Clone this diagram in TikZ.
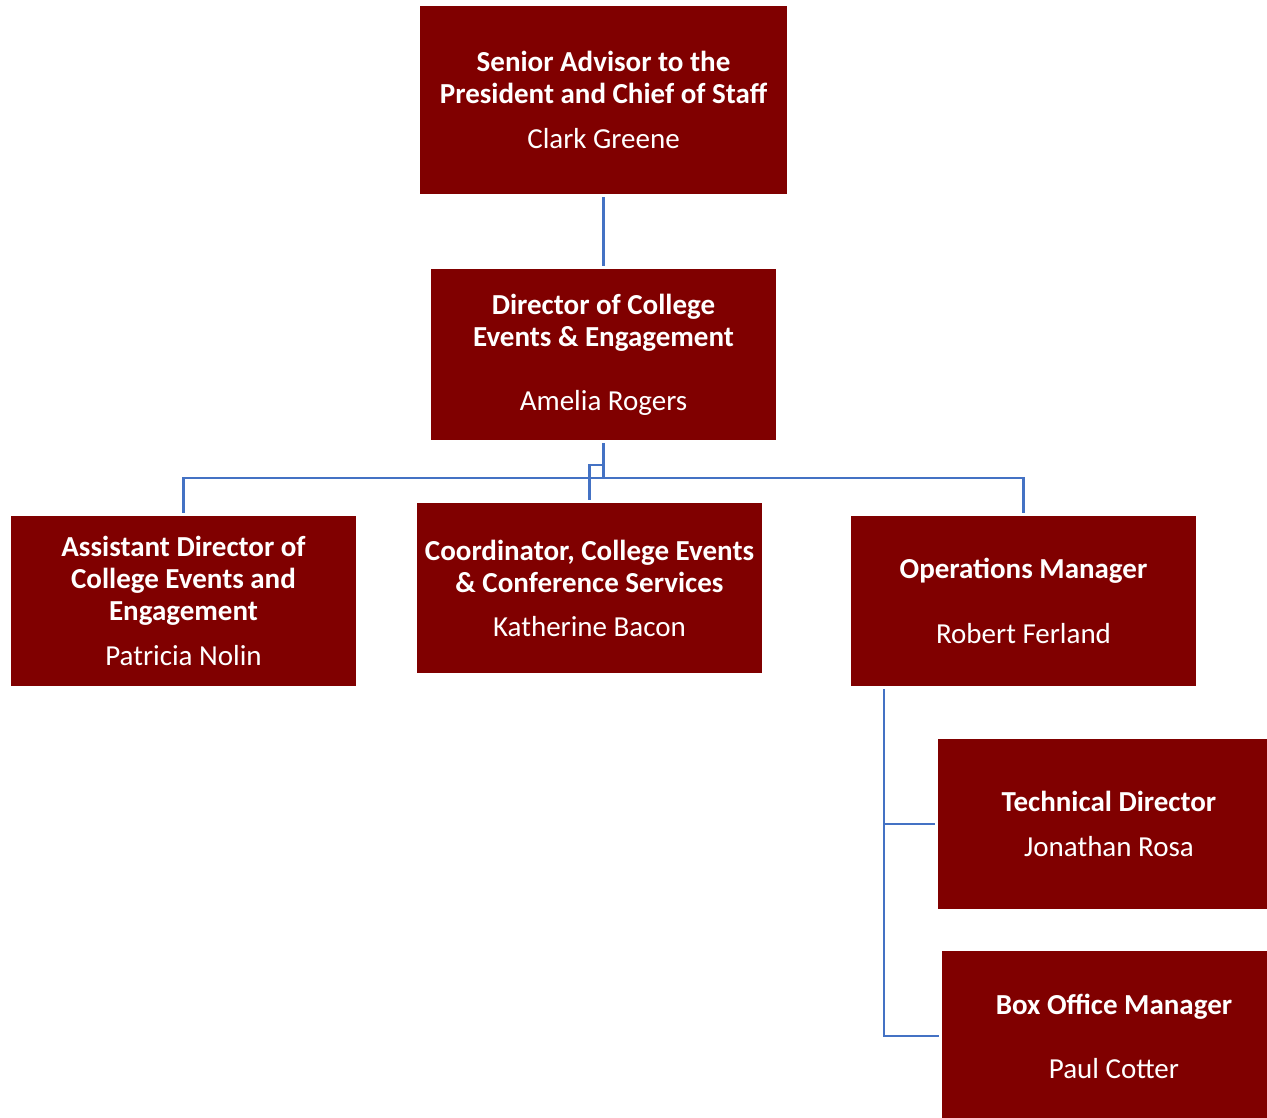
\documentclass[tikz,border=0pt]{standalone}
\usepackage{fontspec}
\setmainfont{Carlito}
\usetikzlibrary{calc}
\definecolor{boxred}{RGB}{128,0,0}
\definecolor{connblue}{RGB}{68,114,196}
\tikzset{
  orgbox/.style={fill=boxred, draw=none, text=white, align=center, inner sep=0pt,
    font=\fontsize{29}{32}\selectfont},
  conn/.style={draw=connblue, line width=2.5pt},
}
\newcommand{\ttl}[1]{\textbf{#1}}
\begin{document}
\begin{tikzpicture}[x=1pt,y=-1pt]
\useasboundingbox (0,0) rectangle (1267,1117);
\node[orgbox, minimum width=367pt, minimum height=188pt] (top) at (603.5,100)
  {\ttl{Senior Advisor to the}\\\ttl{President and Chief of Staff}\\[13pt]Clark Greene};
\node[orgbox, minimum width=345pt, minimum height=171pt] (dir) at (603.5,354.5)
  {\ttl{Director of College}\\\ttl{Events \& Engagement}\\[32pt]Amelia Rogers};
\node[orgbox, minimum width=345pt, minimum height=170pt] (asst) at (183.5,601)
  {\ttl{Assistant Director of}\\\ttl{College Events and}\\\ttl{Engagement}\\[13pt]Patricia Nolin};
\node[orgbox, minimum width=345pt, minimum height=170pt] (coord) at (589.5,588)
  {\ttl{Coordinator, College Events}\\\ttl{\& Conference Services}\\[12pt]Katherine Bacon};
\node[orgbox, minimum width=345pt, minimum height=170pt] (ops) at (1023.5,601)
  {\ttl{Operations Manager}\\[33pt]Robert Ferland};
\node[orgbox, minimum width=342pt, minimum height=170pt] (tech) at (1109,824)
  {\ttl{Technical Director}\\[13pt]Jonathan Rosa};
\node[orgbox, minimum width=344pt, minimum height=170pt] (boxo) at (1114,1036)
  {\ttl{Box Office Manager}\\[32pt]Paul Cotter};

\coordinate (bus) at (603.5,478);
\draw[conn] ($(top.south)+(0,3)$) -- ($(dir.north)+(0,-3)$);
\draw[conn] ($(dir.south)+(0,3)$) -- (bus);
\draw[conn] ($(asst.north)+(0,-3)$) |- (bus) -| ($(ops.north)+(0,-3)$);
\draw[conn] ($(dir.south)+(0,25)$) -| ($(coord.north)+(0,-3)$);
\coordinate (opsv) at ($(ops.south west)+(33,3)$);
\draw[conn] (opsv) |- ($(boxo.west)+(-3,0)$);
\draw[conn] (opsv |- tech.west) -- ($(tech.west)+(-3,0)$);
\end{tikzpicture}
\end{document}
